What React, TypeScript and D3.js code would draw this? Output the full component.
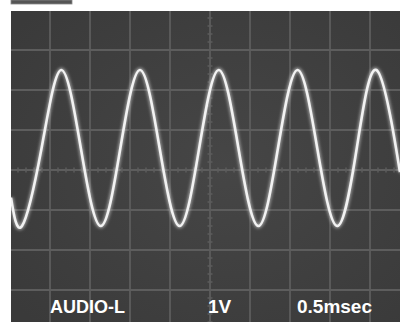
import React from "react";
import * as d3 from "d3";

// Oscilloscope trace: time (ms) and voltage (V)
const traceTime = [0.0125, 0.15, 0.395, 0.64, 0.885, 1.135, 1.38, 1.625, 1.87, 2.12, 2.365, 2.61, 2.855, 3.105, 3.35, 3.595, 3.84, 4.09, 4.335, 4.58, 4.825, 4.875];
const traceVolt = [-0.69, -1.4, 0.55, 2.5, 0.55, -1.4, 0.55, 2.5, 0.55, -1.4, 0.55, 2.5, 0.55, -1.4, 0.55, 2.5, 0.55, -1.4, 0.55, 2.5, 0.55, -0.07];

const timeDivs = [0, 0.5, 1, 1.5, 2, 2.5, 3, 3.5, 4, 4.5, 5];
const voltDivs = [-4, -3, -2, -1, 0, 1, 2, 3, 4];
const labels = ["AUDIO-L", "1V", "0.5msec"];
const labelX = [50, 208, 297];
const labelSize = [18, 19, 19];

const W = 400;
const H = 322;

export default function App() {
  const x = d3.scaleLinear().domain([0, 5]).range([10, 410]);
  const y = d3.scaleLinear().domain([-4, 4]).range([330, 10]);
  const pts = traceTime.map((t, i) => [t, traceVolt[i]] as [number, number]);
  const line = d3
    .line<[number, number]>()
    .x((d) => x(d[0]))
    .y((d) => y(d[1]))
    .curve(d3.curveNatural);
  const path = line(pts) || "";
  const minorT = d3.range(0, 5.0001, 0.1);
  const minorV = d3.range(-4, 4.0001, 0.2);
  const gridColor = "#5d5d5d";

  return (
    <svg width={W} height={H} style={{ position: "absolute", left: 0, top: 0, background: "#fff" }}>
      <defs>
        <radialGradient id="scr" cx="55%" cy="50%" r="70%">
          <stop offset="0%" stopColor="#464646" />
          <stop offset="100%" stopColor="#3a3a3a" />
        </radialGradient>
        <filter id="glow" x="-5%" y="-5%" width="110%" height="110%">
          <feGaussianBlur stdDeviation="1.5" />
        </filter>
        <clipPath id="clip">
          <rect x={11} y={11} width={W - 11} height={H - 11} />
        </clipPath>
      </defs>
      <rect x={11} y={0} width={61} height={4} fill="#555" stroke="#888" strokeWidth={0.8} />
      <rect x={11} y={11} width={W - 11} height={H - 11} fill="url(#scr)" />
      <g clipPath="url(#clip)">
        {timeDivs.map((t) => (
          <line key={"gx" + t} x1={x(t)} x2={x(t)} y1={y(4)} y2={y(-4)} stroke={gridColor} strokeWidth={1.8} />
        ))}
        {voltDivs.map((v) => (
          <line key={"gy" + v} x1={x(0)} x2={x(5)} y1={y(v)} y2={y(v)} stroke={gridColor} strokeWidth={1.8} />
        ))}
        {minorT.map((t) => (
          <line key={"mt" + t} x1={x(t)} x2={x(t)} y1={y(0) - 2.5} y2={y(0) + 2.5} stroke={gridColor} strokeWidth={1.5} />
        ))}
        {minorV.map((v) => (
          <line key={"mv" + v} x1={x(2.5) - 2.5} x2={x(2.5) + 2.5} y1={y(v)} y2={y(v)} stroke={gridColor} strokeWidth={1.5} />
        ))}
        <path d={path} fill="none" stroke="rgba(255,255,255,0.45)" strokeWidth={5} filter="url(#glow)" />
        <path d={path} fill="none" stroke="#f2f2f2" strokeWidth={2.6} />
      </g>
      {labels.map((s, i) => (
        <text
          key={s}
          x={labelX[i]}
          y={313}
          fill="#ffffff"
          fontFamily="'Liberation Sans', Arial, sans-serif"
          fontWeight="bold"
          fontSize={labelSize[i]}
        >
          {s}
        </text>
      ))}
    </svg>
  );
}
